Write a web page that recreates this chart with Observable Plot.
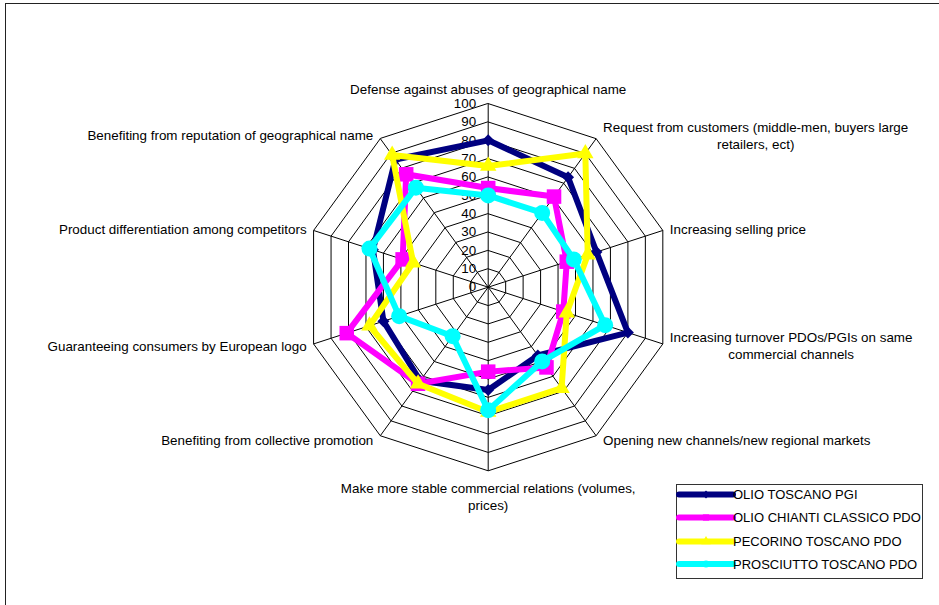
<!DOCTYPE html>
<html><head><meta charset="utf-8">
<script src="https://cdn.jsdelivr.net/npm/d3@7"></script>
<script src="https://cdn.jsdelivr.net/npm/@observablehq/plot@0.6"></script>
<style>
html,body{margin:0;padding:0;background:#fff;}
#wrap{position:relative;width:939px;height:605px;overflow:hidden;font-family:"Liberation Sans",Arial,sans-serif;}
#chart{position:absolute;left:0;top:0;}
#frame{position:absolute;left:5px;top:3px;width:960px;height:640px;border-top:1.5px solid #222;border-left:1.5px solid #222;pointer-events:none;}
#legend{position:absolute;left:676px;top:484px;width:247px;height:95px;border:1px solid #333;box-sizing:border-box;background:#fff;}
</style></head><body>
<div id="wrap"><div id="chart"></div><div id="frame"></div><div id="legend"></div></div>
<script>
// ---------------- data ----------------
const axisLabels = [
  "Defense against abuses of geographical name",
  "Request from customers (middle-men, buyers large\nretailers, ect)",
  "Increasing selling price",
  "Increasing turnover PDOs/PGIs on same\ncommercial channels",
  "Opening new channels/new regional markets",
  "Make more stable commercial relations (volumes,\nprices)",
  "Benefiting from collective promotion",
  "Guaranteeing consumers by European logo",
  "Product differentiation among competitors",
  "Benefiting from reputation of geographical name"
];
const seriesNames = ["OLIO TOSCANO PGI", "OLIO CHIANTI CLASSICO PDO", "PECORINO TOSCANO PDO", "PROSCIUTTO TOSCANO PDO"];
const olioToscano   = [80, 74, 62, 80, 46, 56, 63, 60, 66, 86];
const olioChianti   = [54, 61, 45, 43, 54, 46, 65, 81, 49, 76];
const pecorino      = [66, 90, 57, 45, 68, 68, 65, 68, 43, 89];
const prosciutto    = [50, 50, 49, 67, 50, 67, 33, 51, 68, 67];
const tickValues = [0, 10, 20, 30, 40, 50, 60, 70, 80, 90, 100];

const seriesValues = [olioToscano, olioChianti, pecorino, prosciutto];
const colors = ["#000080", "#FF00FF", "#FFFF00", "#00FFFF"];
const symbols = ["diamond2", "square", "triangle", "circle"];
const markerR = [5.4, 8.2, 6.1, 8];

// ---------------- layout ----------------
const W = 939, H = 605;
const cx = 487.7, cy = 286.7, R = 183.6, maxV = 100;
const k = R / maxV; // px per unit
const FS = 13.4;
const FONT = FS + "px 'Liberation Sans', Arial, sans-serif";
const LEGEND_FONT = "13px 'Liberation Sans', Arial, sans-serif";

const n = axisLabels.length;
const ang = i => i * 2 * Math.PI / n;
const px = (i, v) => v * Math.sin(ang(i));
const py = (i, v) => v * Math.cos(ang(i));

// grid rings
const rings = tickValues.filter(t => t > 0).flatMap(t => axisLabels.map((a, i) => ({level: t, x: px(i, t), y: py(i, t)})));
const spokes = axisLabels.map((a, i) => ({x1: 0, y1: 0, x2: px(i, maxV), y2: py(i, maxV)}));

// label measurement
const ctx = document.createElement("canvas").getContext("2d");
ctx.font = FONT;
const labelData = axisLabels.map((label, i) => {
  const s = Math.sin(ang(i)), c = Math.cos(ang(i));
  const w = Math.max(...label.split("\n").map(l => ctx.measureText(l).width));
  let x = px(i, maxV), y = py(i, maxV), anchor = "middle";
  if (Math.abs(s) < 0.1) {
    if (c > 0) { y += 10 / k; anchor = "bottom"; }
    else { y -= 10 / k; anchor = "top"; }
  } else {
    x += Math.sign(s) * (7 + w / 2) / k;
    y += 5 * c / k;
  }
  return {label, x, y, anchor};
});

const marks = [
  Plot.line(rings, {x: "x", y: "y", z: "level", curve: "linear-closed", stroke: "#000", strokeWidth: 1}),
  Plot.link(spokes, {x1: "x1", y1: "y1", x2: "x2", y2: "y2", stroke: "#000", strokeWidth: 1}),
  Plot.text(tickValues, {x: d => 0, y: d => d, text: d => String(d), textAnchor: "end", dx: -12, fontSize: FS, fill: "#000"})
];
for (const a of ["bottom", "top", "middle"]) {
  marks.push(Plot.text(labelData.filter(d => d.anchor === a), {x: "x", y: "y", text: "label", textAnchor: "middle", lineAnchor: a, lineHeight: 1.27, fontSize: FS, fill: "#000"}));
}
seriesNames.forEach((name, s) => {
  const data = seriesValues[s].map((v, i) => ({series: name, axis: axisLabels[i], value: v, x: px(i, v), y: py(i, v)}));
  marks.push(Plot.line(data, {x: "x", y: "y", curve: "linear-closed", stroke: colors[s], strokeWidth: 6, strokeLinejoin: "miter"}));
  marks.push(Plot.dot(data, {x: "x", y: "y", symbol: symbols[s], r: markerR[s], fill: colors[s], stroke: "none"}));
});

const chart = Plot.plot({
  width: W, height: H, margin: 0,
  style: {background: "transparent", fontFamily: "'Liberation Sans', Arial, sans-serif", fontSize: FS + "px", overflow: "visible"},
  x: {domain: [-cx / k, (W - cx) / k], axis: null},
  y: {domain: [-(H - cy) / k, cy / k], axis: null},
  marks
});
document.getElementById("chart").appendChild(chart);

// ---------------- legend ----------------
const leg = d3.select("#legend").append("svg").attr("width", 245).attr("height", 93)
  .style("font", LEGEND_FONT).style("display", "block").style("overflow", "visible");
const rowY = [9.5, 32.5, 56.5, 79];
const symMap = {diamond2: d3.symbolDiamond2, square: d3.symbolSquare, triangle: d3.symbolTriangle, circle: d3.symbolCircle};
seriesNames.forEach((name, s) => {
  const g = leg.append("g").attr("transform", `translate(0,${rowY[s]})`);
  g.append("line").attr("x1", 2).attr("x2", 56).attr("y1", 0).attr("y2", 0)
    .attr("stroke", colors[s]).attr("stroke-width", 6).attr("stroke-linecap", "round");
  g.append("path").attr("d", d3.symbol(symMap[symbols[s]], 3.5 * 3.5 * Math.PI)()).attr("transform", "translate(29,0)").attr("fill", colors[s]);
  g.append("text").attr("x", 56).attr("y", 0).attr("dy", "0.35em").attr("fill", "#000").text(name);
});
</script>
</body></html>
